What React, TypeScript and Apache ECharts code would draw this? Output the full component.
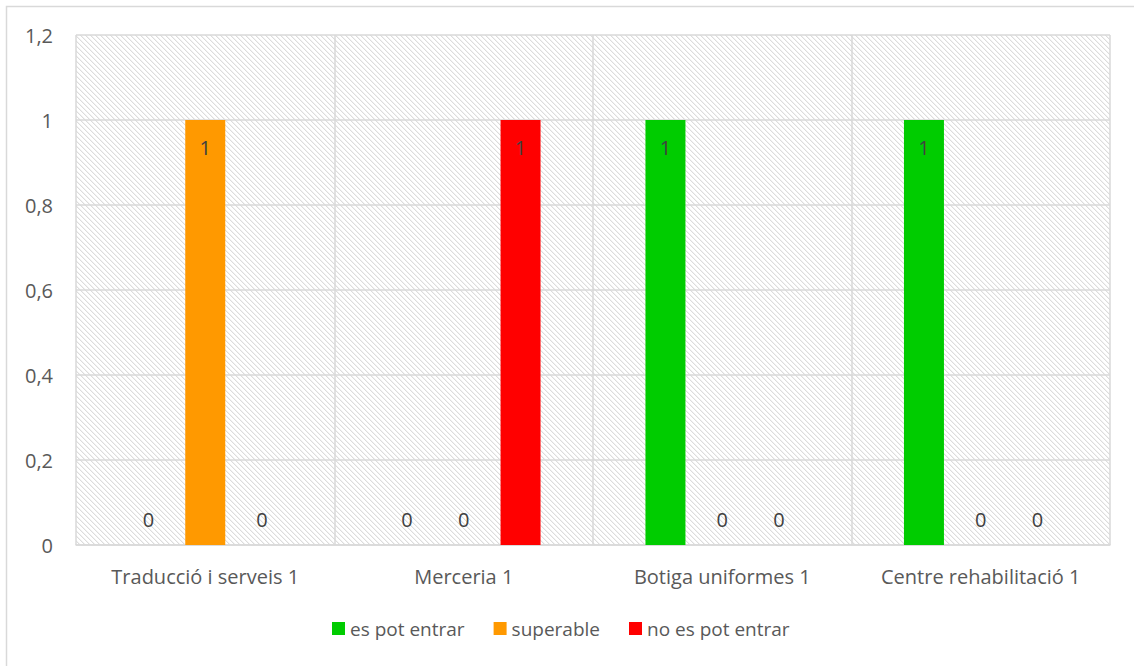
import React, { useEffect, useRef } from "react";
import * as echarts from "echarts";

const categories = [
  "Traducció i serveis 1",
  "Merceria 1",
  "Botiga uniformes 1",
  "Centre rehabilitació 1",
];
const seriesNames = ["es pot entrar", "superable", "no es pot entrar"];
const esPotEntrar = [0, 0, 1, 1];
const superable = [1, 0, 0, 0];
const noEsPotEntrar = [0, 1, 0, 0];
const seriesColors = ["#00CC00", "#FF9900", "#FF0000"];
const yTicks = [0, 0.2, 0.4, 0.6, 0.8, 1, 1.2];

const FONT = "'Open Sans', 'Liberation Sans', sans-serif";

function makePattern(): HTMLCanvasElement {
  const c = document.createElement("canvas");
  const n = 5;
  c.width = n;
  c.height = n;
  const ctx = c.getContext("2d")!;
  ctx.fillStyle = "#ffffff";
  ctx.fillRect(0, 0, n, n);
  for (let y = 0; y < n; y++) {
    for (let x = 0; x < n; x++) {
      const d = (((x - y) % n) + n) % n;
      if (d === 0) {
        ctx.fillStyle = "#dcdcdc";
        ctx.fillRect(x, y, 1, 1);
      } else if (d === 1) {
        ctx.fillStyle = "#f2f2f2";
        ctx.fillRect(x, y, 1, 1);
      }
    }
  }
  return c;
}

function labelFor(v: number) {
  if (v === 0) {
    return {
      show: true,
      position: "insideBottom",
      distance: 16,
      color: "#404040",
      fontSize: 20,
      fontFamily: FONT,
    };
  }
  return {
    show: true,
    position: "insideTop",
    distance: 17,
    color: "#404040",
    fontSize: 20,
    fontFamily: FONT,
  };
}

export default function App() {
  const ref = useRef<HTMLDivElement>(null);
  useEffect(() => {
    document.body.style.margin = "0";
    const chart = echarts.init(ref.current!, null, { renderer: "svg" });
    const pattern = makePattern();
    const dataSets = [esPotEntrar, superable, noEsPotEntrar];
    chart.setOption({
      animation: false,
      backgroundColor: "#ffffff",
      textStyle: { fontFamily: FONT },
      graphic: [
        {
          type: "rect",
          shape: { x: 6.5, y: 6.5, width: 1140, height: 680 },
          style: { fill: "none", stroke: "#d9d9d9", lineWidth: 1.5 },
          silent: true,
          z: -10,
        },
      ],
      grid: {
        left: 76,
        right: 24,
        top: 35,
        bottom: 121,
        show: true,
        backgroundColor: { image: pattern, repeat: "repeat" },
        borderWidth: 0,
      },
      legend: {
        top: 614,
        left: 327,
        itemWidth: 13,
        itemHeight: 13,
        itemGap: 29,
        icon: "rect",
        textStyle: { color: "#595959", fontSize: 19, fontFamily: FONT },
        data: seriesNames,
      },
      xAxis: {
        type: "category",
        data: categories,
        axisLine: { show: true, lineStyle: { color: "#d9d9d9", width: 1.5 } },
        axisTick: { show: false },
        splitLine: {
          show: true,
          interval: 0,
          lineStyle: { color: "#d9d9d9", width: 1.5 },
        },
        axisLabel: {
          interval: 0,
          color: "#595959",
          fontSize: 20,
          fontFamily: FONT,
          margin: 21,
        },
      },
      yAxis: {
        type: "value",
        min: 0,
        max: 1.2,
        interval: 0.2,
        axisLine: { show: false },
        axisTick: { show: false },
        splitLine: { show: true, lineStyle: { color: "#d9d9d9", width: 1.5 } },
        axisLabel: {
          color: "#595959",
          fontSize: 20,
          fontFamily: FONT,
          margin: 23,
          formatter: (v: number) => {
            const t = yTicks.find((x) => Math.abs(x - v) < 1e-9);
            return String(t !== undefined ? t : v).replace(".", ",");
          },
        },
      },
      series: seriesNames.map((name, i) => ({
        name,
        type: "bar",
        barWidth: 40,
        barGap: "42%",
        barCategoryGap: "40%",
        itemStyle: { color: seriesColors[i] },
        data: dataSets[i].map((v) => ({ value: v, label: labelFor(v) })),
      })),
    });
    return () => chart.dispose();
  }, []);
  return <div ref={ref} style={{ width: 1134, height: 666 }} />;
}
